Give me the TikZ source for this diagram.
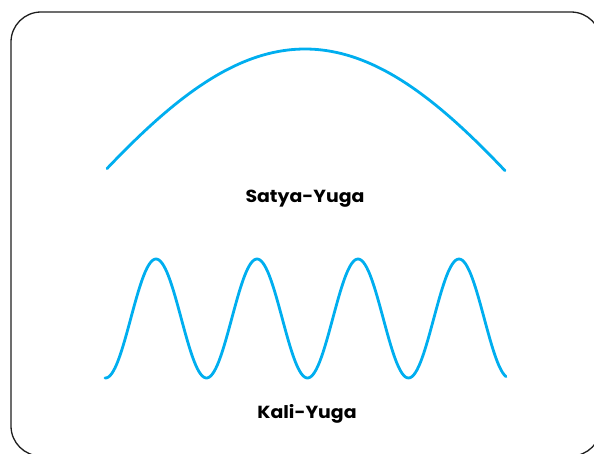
\documentclass[tikz,border=0pt]{standalone}
\usepackage{fontspec}
\setmainfont{Poppins}
\definecolor{wavecol}{RGB}{0,174,239}
\definecolor{framecol}{RGB}{30,30,30}
\tikzset{
  wave/.style={draw=wavecol, line width=2.8pt, line cap=round, line join=round},
  framebox/.style={draw=framecol, line width=1.3pt, rounded corners=30pt},
  lbl/.style={font=\fontsize{17.5}{20}\selectfont\bfseries, text=black, inner sep=0pt, anchor=base, xscale=1.08}
}
\begin{document}
\begin{tikzpicture}[x=1pt,y=-1pt]
\useasboundingbox (0,0) rectangle (594,453);
\clip (0,0) rectangle (594,453);
\draw[framebox] (11,12) rectangle (601,456);
\draw[wave] plot[domain=107:505, samples=120, smooth] (\x, {49 + 177*(1-cos(0.3589*(\x-305)))});
\draw[wave] plot[domain=105:506, samples=240, smooth] (\x, {318.5 + 59.5*cos(360/101*(\x-105.5))});
\node[lbl] (satya) at (305,202) {Satya-Yuga};
\node[lbl] (kali) at (307,418) {Kali-Yuga};
\end{tikzpicture}
\end{document}
